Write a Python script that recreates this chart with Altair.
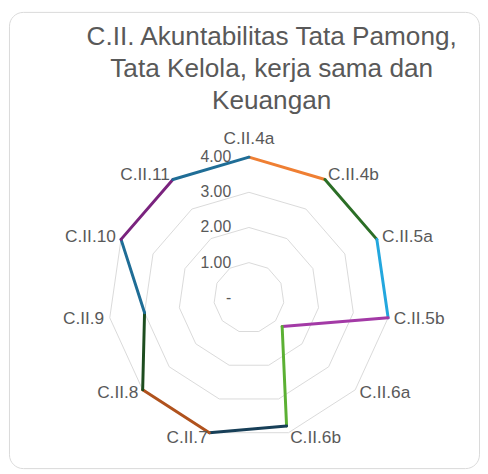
import math
import altair as alt
import pandas as pd

# ---------------- data ----------------
categories = ["C.II.4a", "C.II.4b", "C.II.5a", "C.II.5b", "C.II.6a", "C.II.6b",
              "C.II.7", "C.II.8", "C.II.9", "C.II.10", "C.II.11"]
values = [4.0, 4.0, 4.0, 4.0, 1.25, 3.8, 4.0, 4.0, 3.0, 4.0, 4.0]
segment_colors = ["#EF7F33", "#2B6E26", "#23A7DE", "#A33AA6", "#5BB033", "#173F58",
                  "#B0521D", "#1D4D1F", "#1F6D96", "#7A237E", "#1F6D96"]
ring_levels = [1, 2, 3, 4]
tick_values = [0, 1, 2, 3, 4]
tick_labels = ["-", "1.00", "2.00", "3.00", "4.00"]
title_lines = ["C.II. Akuntabilitas Tata Pamong,", "Tata Kelola, kerja sama dan", "Keuangan"]

# ---------------- layout ----------------
N = len(categories)
W, H = 476, 462
CX, CY = 243.0, 289.5      # centre of the radar in plot pixels
PX = 35.6                  # pixels per unit
LABEL_R = 4.16
FONT = "Liberation Sans"
TXT = "#595959"

xdom = [-CX / PX, (W - CX) / PX]
ydom = [-(H - CY) / PX, CY / PX]
xs = alt.Scale(domain=xdom, nice=False, zero=False)
ys = alt.Scale(domain=ydom, nice=False, zero=False)

seg_df = pd.DataFrame({
    "idx": list(range(N)),
    "cat": categories,
    "v": values,
    "vn": values[1:] + values[:1],
})
ring_df = pd.DataFrame([{"level": L, "idx": i} for L in ring_levels for i in range(N)])
lab_df = pd.DataFrame({
    "idx": list(range(N)),
    "cat": categories,
    "side": ["top"] + ["right"] * 5 + ["left"] * 5,
    "r": [LABEL_R] * N,
})
tick_df = pd.DataFrame({"v": tick_values, "label": tick_labels})

ANG = f"2*PI*datum.idx/{N}"
ANG2 = f"2*PI*(datum.idx+1)/{N}"

rings = alt.Chart(ring_df).transform_calculate(
    x=f"datum.level*sin({ANG})", y=f"datum.level*cos({ANG})",
    x2=f"datum.level*sin({ANG2})", y2=f"datum.level*cos({ANG2})",
).mark_rule(color="#d9d9d9", strokeWidth=1).encode(
    x=alt.X("x:Q", scale=xs, axis=None),
    y=alt.Y("y:Q", scale=ys, axis=None),
    x2="x2:Q", y2="y2:Q",
)

segs = alt.Chart(seg_df).transform_calculate(
    x=f"datum.v*sin({ANG})", y=f"datum.v*cos({ANG})",
    x2=f"datum.vn*sin({ANG2})", y2=f"datum.vn*cos({ANG2})",
).mark_rule(strokeWidth=3, strokeCap="round").encode(
    x=alt.X("x:Q", scale=xs, axis=None),
    y=alt.Y("y:Q", scale=ys, axis=None),
    x2="x2:Q", y2="y2:Q",
    color=alt.Color("cat:N", scale=alt.Scale(domain=categories, range=segment_colors), legend=None),
)

def cat_labels(side, align, baseline, dy=0):
    return alt.Chart(lab_df).transform_filter(
        alt.datum.side == side
    ).transform_calculate(
        x=f"datum.r*sin({ANG})", y=f"datum.r*cos({ANG})",
    ).mark_text(align=align, baseline=baseline, dy=dy, font=FONT, fontSize=17.5, color=TXT).encode(
        x=alt.X("x:Q", scale=xs, axis=None),
        y=alt.Y("y:Q", scale=ys, axis=None),
        text="cat:N",
    )

lab_top = cat_labels("top", "center", "alphabetic", -8)
lab_right = cat_labels("right", "left", "middle")
lab_left = cat_labels("left", "right", "middle")

ticks = alt.Chart(tick_df).transform_calculate(x="0").mark_text(
    align="right", baseline="middle", dx=-18, font=FONT, fontSize=16, color=TXT
).encode(
    x=alt.X("x:Q", scale=xs, axis=None),
    y=alt.Y("v:Q", scale=ys, axis=None),
    text="label:N",
)

title = alt.Chart(pd.DataFrame({"t": [0]})).mark_text(
    text=title_lines, align="center", baseline="top", lineHeight=32,
    font=FONT, fontSize=26.5, color=TXT,
).encode(x=alt.value(266), y=alt.value(13))

chart = alt.layer(rings, segs, ticks, lab_top, lab_right, lab_left, title).properties(
    width=W, height=H,
    autosize=alt.AutoSizeParams(type="none"),
    padding={"left": 1, "top": 1, "right": 1, "bottom": 1},
).configure_view(stroke="#d9d9d9", strokeWidth=1, cornerRadius=14)

chart.save("out.html", embed_options={"renderer": "svg", "actions": False})
